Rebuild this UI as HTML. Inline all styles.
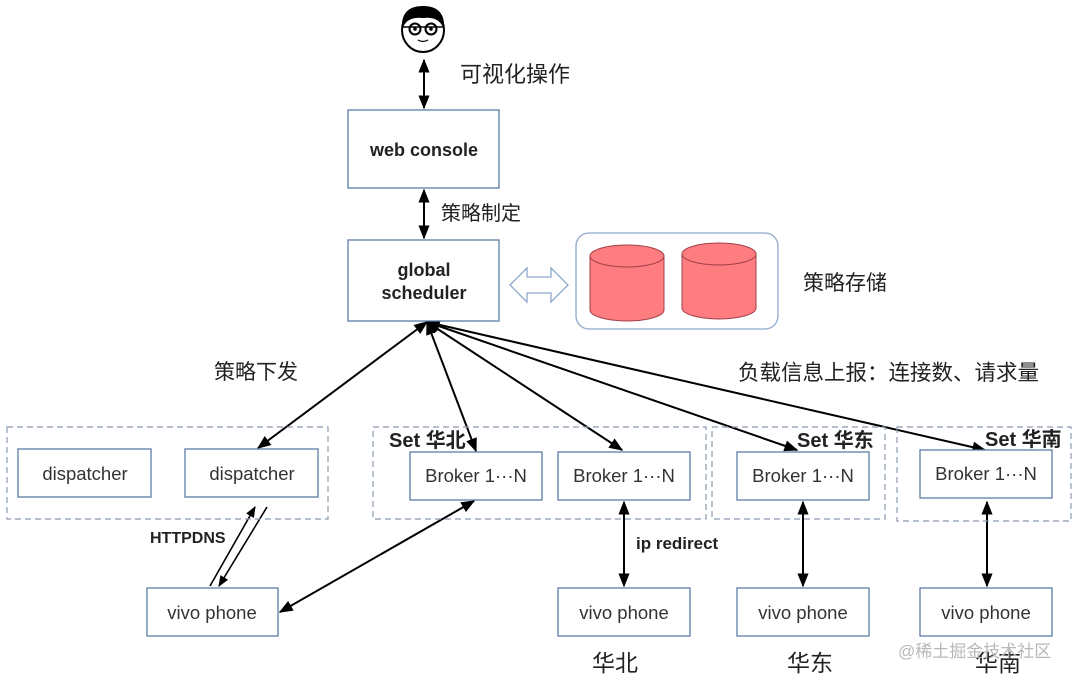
<!DOCTYPE html>
<html><head><meta charset="utf-8"><style>
html,body{margin:0;padding:0;background:#fff;}
svg{display:block;}
text{font-family:"Liberation Sans","Noto Sans CJK SC",sans-serif;}
</style></head><body>
<svg width="1080" height="681" viewBox="0 0 1080 681" xmlns="http://www.w3.org/2000/svg">
<defs>
<marker id="a" viewBox="0 0 10 10" refX="9" refY="5" markerWidth="7" markerHeight="7" orient="auto-start-reverse"><path d="M0,1 L10,5 L0,9 z" fill="#000"/></marker>
</defs>
<rect width="1080" height="681" fill="#fff"/>
<g>
<ellipse cx="423" cy="30" rx="21" ry="22" fill="#fff" stroke="#000" stroke-width="2"/>
<path d="M402,30 Q400,6 423,6 Q446,6 444,30 Q440,16 423,18 Q406,16 402,30z" fill="#000"/>
<circle cx="415" cy="29" r="5.5" fill="#fff" stroke="#000" stroke-width="2"/>
<circle cx="431" cy="29" r="5.5" fill="#fff" stroke="#000" stroke-width="2"/>
<circle cx="415" cy="29" r="1.8"/><circle cx="431" cy="29" r="1.8"/>
<line x1="403" y1="27" x2="443" y2="27" stroke="#000" stroke-width="1.5"/>
<path d="M418,40 Q423,43 428,40" fill="none" stroke="#000" stroke-width="1.2"/>
</g>
<g stroke="#000" stroke-width="2" fill="none">
<line x1="424" y1="60" x2="424" y2="108" marker-start="url(#a)" marker-end="url(#a)"/>
<line x1="424" y1="190" x2="424" y2="238" marker-start="url(#a)" marker-end="url(#a)"/>
<line x1="427" y1="322" x2="258" y2="448" marker-start="url(#a)" marker-end="url(#a)"/>
<line x1="427" y1="322" x2="476" y2="451" marker-start="url(#a)" marker-end="url(#a)"/>
<line x1="427" y1="322" x2="622" y2="450" marker-start="url(#a)" marker-end="url(#a)"/>
<line x1="427" y1="322" x2="797" y2="450" marker-start="url(#a)" marker-end="url(#a)"/>
<line x1="427" y1="322" x2="985" y2="450" marker-start="url(#a)" marker-end="url(#a)"/>
<line x1="280" y1="612" x2="474" y2="501" marker-start="url(#a)" marker-end="url(#a)"/>
<line x1="210" y1="586" x2="255" y2="507" marker-end="url(#a)" stroke-width="1.6"/>
<line x1="267" y1="507" x2="219" y2="586" marker-end="url(#a)" stroke-width="1.6"/>
<line x1="624" y1="502" x2="624" y2="586" marker-start="url(#a)" marker-end="url(#a)"/>
<line x1="803" y1="502" x2="803" y2="586" marker-start="url(#a)" marker-end="url(#a)"/>
<line x1="987" y1="502" x2="987" y2="586" marker-start="url(#a)" marker-end="url(#a)"/>
</g>
<g fill="none" stroke="#8a9bb0" stroke-width="1.2" stroke-dasharray="6,4">
<rect x="7" y="427" width="321" height="92"/>
<rect x="373" y="427" width="333" height="92"/>
<rect x="712" y="427" width="173" height="92"/>
<rect x="897" y="427" width="174" height="94"/>
</g>
<g fill="#fff" stroke="#5a7ca6" stroke-width="1.3">
<rect x="348" y="110" width="151" height="78"/>
<rect x="348" y="240" width="151" height="81"/>
<rect x="18" y="449" width="133" height="48"/>
<rect x="185" y="449" width="133" height="48"/>
<rect x="410" y="452" width="132" height="48"/>
<rect x="558" y="452" width="132" height="48"/>
<rect x="737" y="452" width="132" height="48"/>
<rect x="920" y="450" width="132" height="48"/>
<rect x="147" y="588" width="131" height="48"/>
<rect x="558" y="588" width="132" height="48"/>
<rect x="737" y="588" width="132" height="48"/>
<rect x="920" y="588" width="132" height="48"/>
</g>
<rect x="576" y="233" width="202" height="96" rx="13" fill="#fff" stroke="#8fa9cc" stroke-width="1.3"/>
<g fill="#ff7c80" stroke="#a04048" stroke-width="1">
<path d="M590,256 L590,310 A37,11 0 0 0 664,310 L664,256"/>
<ellipse cx="627" cy="256" rx="37" ry="11"/>
<path d="M682,254 L682,308 A37,11 0 0 0 756,308 L756,254"/>
<ellipse cx="719" cy="254" rx="37" ry="11"/>
</g>
<path d="M510,285 L527,268 L527,277 L551,277 L551,268 L568,285 L551,302 L551,293 L527,293 L527,302 Z" fill="#fff" stroke="#8fa9cc" stroke-width="1.3"/>
<g fill="#222">
<text x="424" y="156" font-size="18" font-weight="bold" text-anchor="middle">web console</text>
<text x="424" y="276" font-size="18" font-weight="bold" text-anchor="middle">global</text>
<text x="424" y="299" font-size="18" font-weight="bold" text-anchor="middle">scheduler</text>
<g font-size="18.5" text-anchor="middle" fill="#333">
<text x="85" y="480">dispatcher</text>
<text x="252" y="480">dispatcher</text>
<text x="476" y="482">Broker 1···N</text>
<text x="624" y="482">Broker 1···N</text>
<text x="803" y="482">Broker 1···N</text>
<text x="986" y="480">Broker 1···N</text>
<text x="212" y="619">vivo phone</text>
<text x="624" y="619">vivo phone</text>
<text x="803" y="619">vivo phone</text>
<text x="986" y="619">vivo phone</text>
</g>
<text x="460" y="82" font-size="22">可视化操作</text>
<text x="441" y="220" font-size="20">策略制定</text>
<text x="803" y="290" font-size="21">策略存储</text>
<text x="214" y="379" font-size="21">策略下发</text>
<text x="738" y="380" font-size="21.5">负载信息上报：连接数、请求量</text>
<text x="389" y="447" font-size="20" font-weight="bold">Set 华北</text>
<text x="797" y="447" font-size="20" font-weight="bold">Set 华东</text>
<text x="985" y="446" font-size="20" font-weight="bold">Set 华南</text>
<text x="636" y="549" font-size="17" font-weight="bold">ip redirect</text>
<text x="150" y="543" font-size="16" font-weight="bold">HTTPDNS</text>
<text x="592" y="671" font-size="23">华北</text>
<text x="787" y="671" font-size="23">华东</text>
<text x="975" y="671" font-size="23">华南</text>
</g>
<text x="898" y="657" font-size="17" fill="#b8b8b8">@稀土掘金技术社区</text>
</svg>
</body></html>
